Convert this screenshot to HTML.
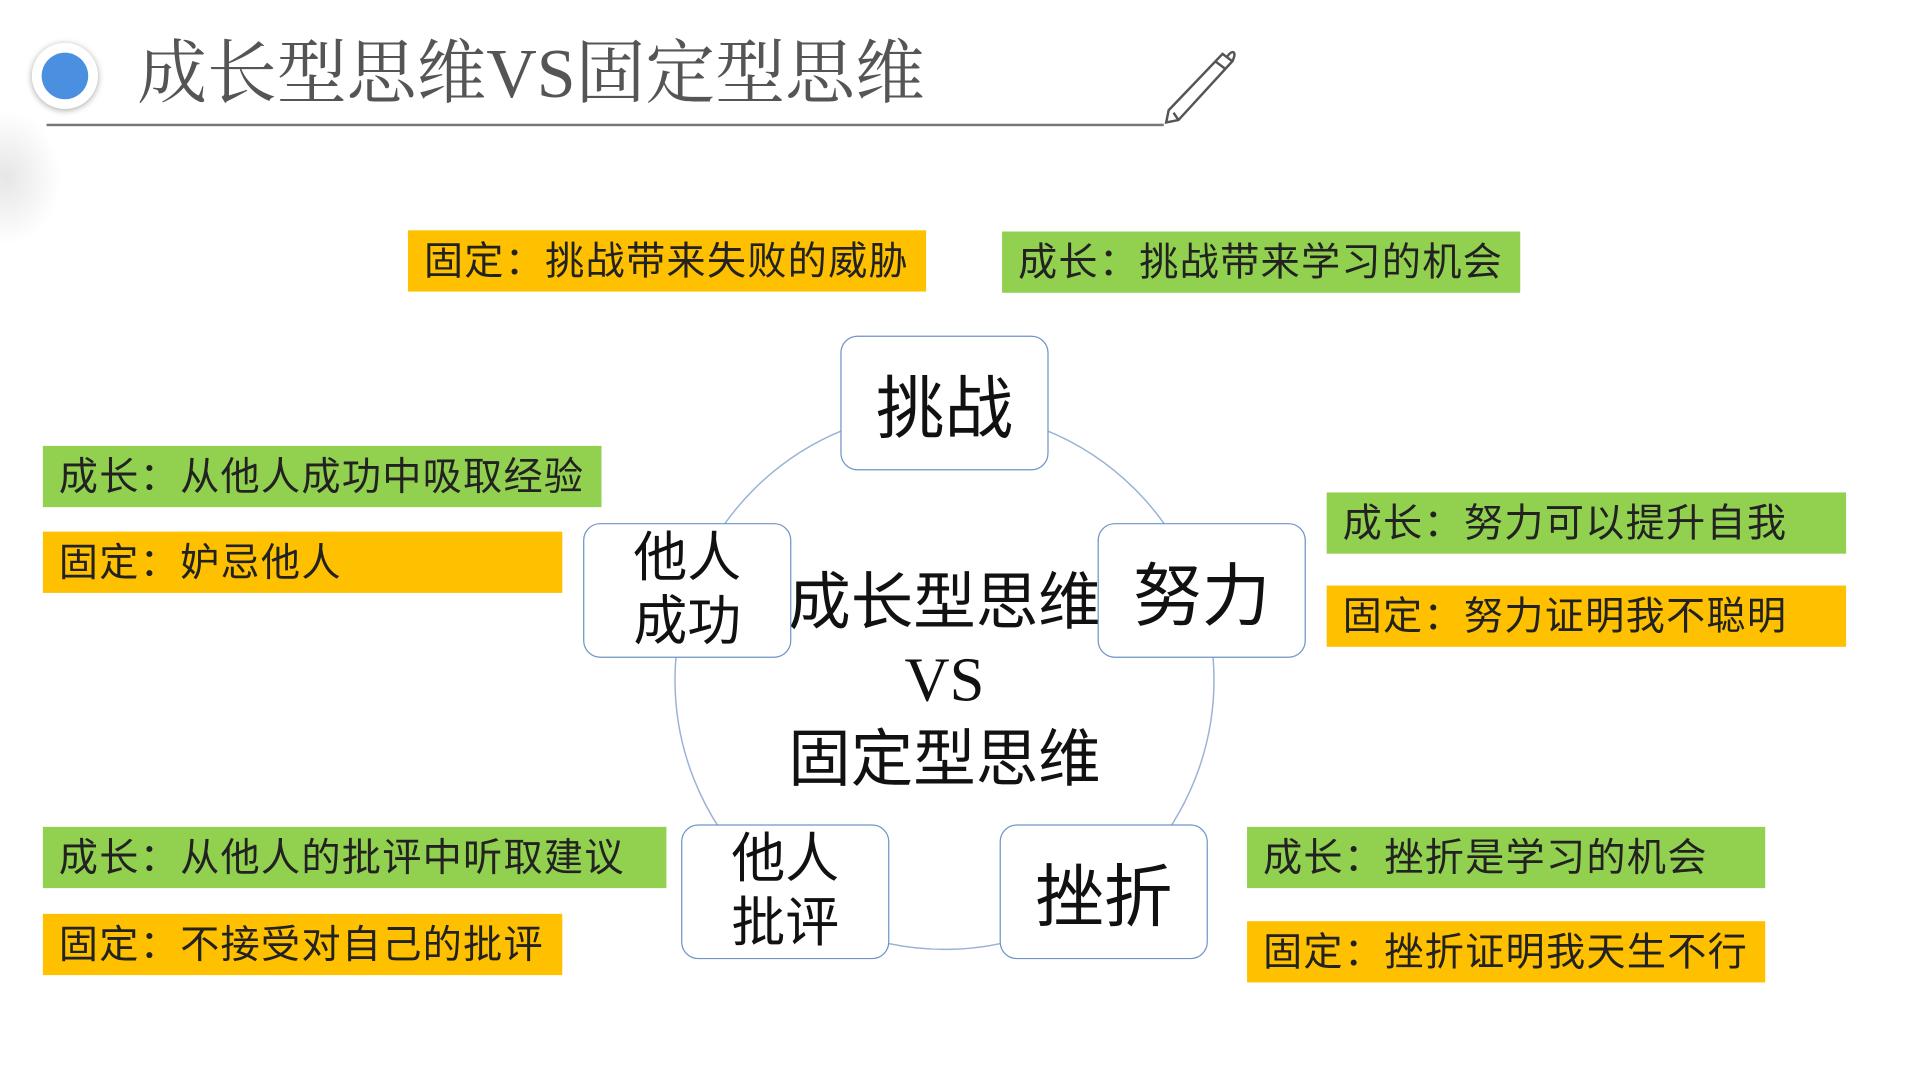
<!DOCTYPE html>
<html><head><meta charset="utf-8"><style>
html,body{margin:0;padding:0;width:1920px;height:1080px;overflow:hidden;background:#fff}
#s{position:absolute;left:0;top:0;width:1568px;height:882px;transform:scale(1.225);transform-origin:0 0;font-family:"Liberation Sans","Noto Sans CJK SC",sans-serif}
.b{position:absolute;height:50px;line-height:50px;font-size:32px;letter-spacing:1px;color:#222;padding-left:13px;box-sizing:border-box;white-space:nowrap}
.o{background:#FFC000}.g{background:#92D050}
.n{position:absolute;width:170px;height:110px;border:1.5px solid #6f93c8;border-radius:14px;background:#fff;box-sizing:border-box;display:flex;align-items:center;justify-content:center;text-align:center;color:#111}
.big{font-size:56px}.two{font-size:44px;line-height:52px}
</style></head><body><div id="s">
<div style="position:absolute;left:-40px;top:90px;width:90px;height:110px;border-radius:50%;background:radial-gradient(#e6e6e6,rgba(255,255,255,0) 70%)"></div>
<div style="position:absolute;left:26px;top:35px;width:54px;height:54px;border-radius:50%;background:#fff;box-shadow:0 1px 5px rgba(0,0,0,.35)"></div>
<div style="position:absolute;left:34px;top:43px;width:38px;height:38px;border-radius:50%;background:#4a8fe0"></div>
<div style="position:absolute;left:112px;top:26px;font-size:57px;line-height:70px;color:#555;font-family:'Liberation Serif','Noto Serif CJK SC',serif;white-space:nowrap">成长型思维VS固定型思维</div>
<div style="position:absolute;left:38px;top:101px;width:912px;height:1.5px;background:#777"></div>
<svg style="position:absolute;left:940px;top:36px" width="75" height="70" viewBox="0 0 75 70"><g fill="none" stroke="#555" stroke-width="2"><path d="M58 8 L66 14 L22 62 L12 64 L14 54 Z"/><path d="M52 14 L60 20"/><path d="M18 56 L22 62"/><path d="M62 10 C66 4 70 6 66 14"/></g></svg>
<svg style="position:absolute;left:0;top:0" width="1552" height="873"><circle cx="771" cy="555" r="220" fill="none" stroke="#9ab2d6" stroke-width="1.2"/></svg>
<div style="position:absolute;left:610px;top:460px;width:322px;text-align:center;font-size:51px;line-height:63px;color:#111">成长型思维<br><span style="font-family:'Liberation Serif',serif">VS</span><br>固定型思维</div>
<div class="n big" style="left:686px;top:274px">挑战</div>
<div class="n big" style="left:896px;top:427px">努力</div>
<div class="n two" style="left:476px;top:427px">他人<br>成功</div>
<div class="n two" style="left:556px;top:673px">他人<br>批评</div>
<div class="n big" style="left:816px;top:673px">挫折</div>
<div class="b o" style="left:333px;top:188px;width:423px">固定：挑战带来失败的威胁</div>
<div class="b g" style="left:818px;top:189px;width:423px">成长：挑战带来学习的机会</div>
<div class="b g" style="left:35px;top:364px;width:456px">成长：从他人成功中吸取经验</div>
<div class="b o" style="left:35px;top:434px;width:424px">固定：妒忌他人</div>
<div class="b g" style="left:1083px;top:402px;width:424px">成长：努力可以提升自我</div>
<div class="b o" style="left:1083px;top:478px;width:424px">固定：努力证明我不聪明</div>
<div class="b g" style="left:35px;top:675px;width:509px">成长：从他人的批评中听取建议</div>
<div class="b o" style="left:35px;top:746px;width:424px">固定：不接受对自己的批评</div>
<div class="b g" style="left:1018px;top:675px;width:423px">成长：挫折是学习的机会</div>
<div class="b o" style="left:1018px;top:752px;width:423px">固定：挫折证明我天生不行</div>
</div></body></html>
